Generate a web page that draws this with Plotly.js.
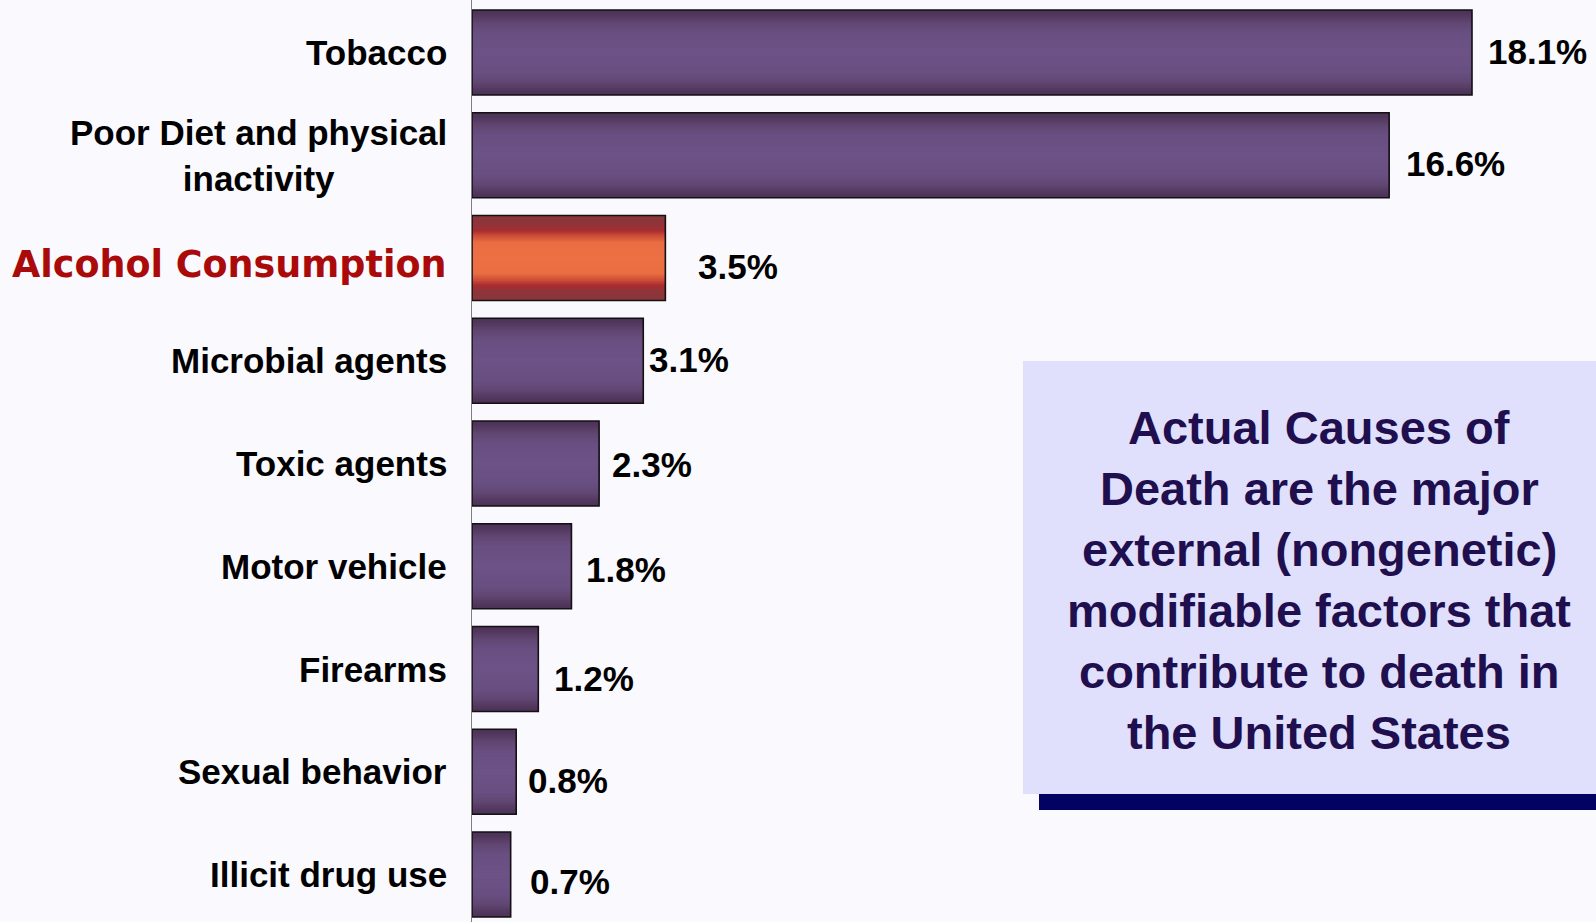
<!DOCTYPE html>
<html>
<head>
<meta charset="utf-8">
<script src="https://cdn.plot.ly/plotly-3.0.1.min.js"></script>
<style>
  html, body { margin: 0; padding: 0; background: #f9f9fe; overflow: hidden; }
  #chart { width: 1596px; height: 922px; }
</style>
</head>
<body>
<div id="chart"></div>
<script>
// ---- data ----
const categories = [
  "Tobacco",
  "Poor Diet and physical<br>inactivity",
  "Alcohol Consumption",
  "Microbial agents",
  "Toxic agents",
  "Motor vehicle",
  "Firearms",
  "Sexual behavior",
  "Illicit drug use"
];
const percentDeaths = [18.1, 16.6, 3.5, 3.1, 2.3, 1.8, 1.2, 0.8, 0.7];
const highlightCategory = "Alcohol Consumption";
const boxLines = [
  "Actual Causes of",
  "Death are the major",
  "external (nongenetic)",
  "modifiable factors that",
  "contribute to death in",
  "the United States"
];

// ---- style / layout constants ----
const W = 1596, H = 922, L = 472;
const pxPerUnit = 1000 / 18.1;
const xMax = (W - L) / pxPerUnit;
const rowPx = 102.75;
const yTop = -52.5 / rowPx;
const yBottom = (categories.length - 1) + (H - 874.5) / rowPx;
const barW = 0.827;
// value label nudges [dx px right of bar end, dy px downward]
const labelNudge = [[13.5, -1.5], [14.5, 8], [30.5, 8], [3.5, -1], [10.5, 1], [12.5, 3], [13.5, 9], [10, 8.5], [17.5, 7]];

// gradient profiles: [distance from bar centre (0) to edge (1), colour]
const purpleStops = [[0, [108, 82, 134]], [0.5, [104, 78, 129]], [0.7, [97, 70, 114]], [0.85, [84, 58, 97]], [1, [74, 49, 85]]];
const alcoholStops = [[0, [236, 112, 68]], [0.36, [234, 110, 66]], [0.52, [205, 78, 54]], [0.64, [168, 45, 49]], [0.78, [144, 52, 57]], [1, [134, 56, 59]]];
function sample(stops, t) {
  for (let i = 1; i < stops.length; i++) {
    if (t <= stops[i][0]) {
      const a = stops[i - 1], b = stops[i];
      const f = (t - a[0]) / (b[0] - a[0]);
      const c = a[1].map((v, k) => Math.round(v + (b[1][k] - v) * f));
      return "rgb(" + c.join(",") + ")";
    }
  }
  return "rgb(" + stops[stops.length - 1][1].join(",") + ")";
}
const nLayers = 24;

const isHi = categories.map(c => c === highlightCategory);
const traces = [];
for (let k = 0; k < nLayers; k++) {
  const w = 1 - k / nLayers;
  const tMid = w - 0.5 / nLayers;
  const pc = sample(purpleStops, tMid), ac = sample(alcoholStops, tMid);
  traces.push({
    type: "bar",
    orientation: "h",
    x: percentDeaths,
    y: categories,
    width: w * barW,
    marker: { color: isHi.map(h => h ? ac : pc), line: { width: 0 } },
    hoverinfo: "skip",
    showlegend: false
  });
}
// outline on top
traces.push({
  type: "bar",
  orientation: "h",
  x: percentDeaths,
  y: categories,
  width: barW,
  marker: { color: "rgba(0,0,0,0)", line: { width: 1.6, color: "#141014" } },
  hoverinfo: "skip",
  showlegend: false
});

const annotations = [];
categories.forEach((c, i) => {
  const hi = isHi[i];
  annotations.push({
    xref: "paper", yref: "y", x: 0, y: c,
    xanchor: "right", yanchor: "middle", align: "center",
    xshift: -23, yshift: hi ? -6 : 0,
    text: c, showarrow: false,
    font: hi
      ? { family: "DejaVu Sans, sans-serif", size: 36.5, color: "#aa0a0a", weight: 700 }
      : { family: "Liberation Sans, Arial, sans-serif", size: 35, color: "#000000", weight: 700 }
  });
  annotations.push({
    xref: "x", yref: "y", x: percentDeaths[i], y: c,
    xanchor: "left", yanchor: "middle",
    xshift: labelNudge[i][0], yshift: -labelNudge[i][1],
    text: percentDeaths[i].toFixed(1) + "%", showarrow: false,
    font: { family: "Liberation Sans, Arial, sans-serif", size: 35, color: "#000000", weight: 700 }
  });
});

const px2x = p => (p - L) / (W - L);
const px2y = p => 1 - p / H;
const boxCx = 1319, boxY0 = 427.5, boxStep = 60.9;
boxLines.forEach((t, i) => {
  annotations.push({
    xref: "paper", yref: "paper",
    x: px2x(boxCx), y: px2y(boxY0 + i * boxStep),
    xanchor: "center", yanchor: "middle",
    text: t, showarrow: false,
    font: { family: "Liberation Sans, Arial, sans-serif", size: 47, color: "#1f0f4f", weight: 700 }
  });
});

const shapes = [
  { type: "rect", xref: "paper", yref: "paper", layer: "below",
    x0: px2x(1023), x1: px2x(1600), y0: px2y(794), y1: px2y(361),
    fillcolor: "#e0e0fc", line: { width: 0 } },
  { type: "rect", xref: "paper", yref: "paper", layer: "below",
    x0: px2x(1039), x1: px2x(1600), y0: px2y(810), y1: px2y(794),
    fillcolor: "#020263", line: { width: 0 } }
];

const layout = {
  width: W, height: H,
  margin: { l: L, r: 0, t: 0, b: 0, pad: 0 },
  paper_bgcolor: "#f9f9fe",
  plot_bgcolor: "rgba(0,0,0,0)",
  barmode: "overlay",
  showlegend: false,
  xaxis: { range: [0, xMax], visible: false, fixedrange: true },
  yaxis: {
    type: "category",
    categoryorder: "array", categoryarray: categories,
    range: [yBottom, yTop],
    showline: true, linecolor: "#808080", linewidth: 1.5,
    showticklabels: false, ticks: "", showgrid: false, zeroline: false,
    fixedrange: true
  },
  annotations: annotations,
  shapes: shapes
};

Plotly.newPlot("chart", traces, layout, { displayModeBar: false, staticPlot: true });
</script>
</body>
</html>
